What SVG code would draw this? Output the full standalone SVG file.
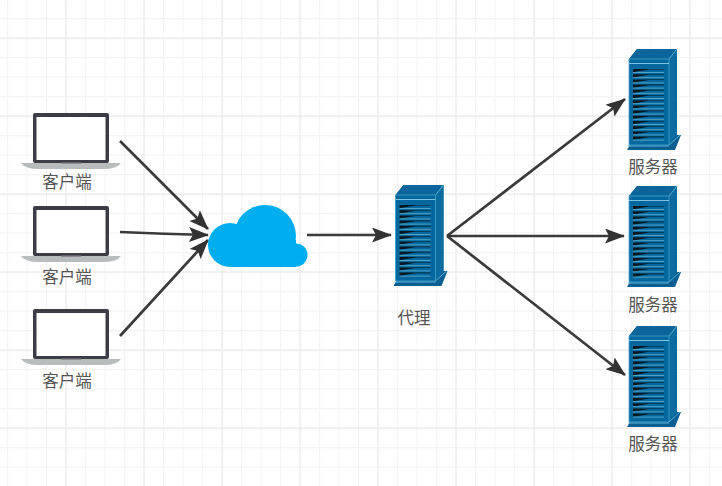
<svg xmlns="http://www.w3.org/2000/svg" xmlns:xlink="http://www.w3.org/1999/xlink" width="722" height="486" viewBox="0 0 722 486">
<style>
.lbl{font-family:"Liberation Sans","Noto Sans CJK SC",sans-serif;font-size:16.5px;fill:#555;text-anchor:middle}
.conn{fill:none;stroke:#3a3a3a;stroke-width:2.7}
.arrow{fill:#333}
</style>
<defs>
<pattern id="g" width="19.5" height="19.5" patternUnits="userSpaceOnUse" x="7" y="-1.5">
<path d="M0.5 0V19.5M0 0.5H19.5" stroke="#f4f4f4" stroke-width="1.3" fill="none"/>
</pattern>
<pattern id="G" width="78" height="78" patternUnits="userSpaceOnUse" x="65.500" y="37.5">
<path d="M0.5 0V78M0 0.5H78" stroke="#ebebeb" stroke-width="1.3" fill="none"/>
</pattern>
<marker id="ah" viewBox="0 0 20 15" refX="19" refY="7.5" markerWidth="20" markerHeight="15" markerUnits="userSpaceOnUse" orient="auto">
<path class="arrow" d="M0 0L20 7.5L0 15L4 7.5Z"/>
</marker>
<g id="laptop">
<path d="M-12 50H88Q84 56 70 56H6Q-8 56-12 50Z" fill="#b9bcbd"/>
<rect x="0" y="0" width="76" height="50" rx="2" fill="#3c3c46"/>
<rect x="3.5" y="4" width="69" height="43" fill="#fff"/>
<rect x="28" y="49.5" width="20" height="1.5" fill="#8a8a8f"/>
</g>
<path id="sr" d="M6 0H37V0.6H22L6 3.2Z"/>
<g id="server">
<path d="M2 11L10 1H50V87L54 87L48 102H0L3 97Z" fill="#0a5f92"/>
<path d="M42 11L50 1V87L42 97Z" fill="#0d6c9f"/>
<path d="M2 11L10 1H50L42 11Z" fill="#0b659a"/>
<path d="M2 11H42V97H2Z" fill="#04689f" stroke="#3fa3cc" stroke-width="0.8"/>
<path d="M2 15.5H42" stroke="#7cc3df" stroke-width="1.2"/>
<path d="M42 11L50 1M42 97L53 87" stroke="#58b0d4" stroke-width="1"/>
<path d="M1 98H42" stroke="#5cb1d4" stroke-width="1"/>
<g fill="#041822">
<use href="#sr" xlink:href="#sr" y="21"/><use href="#sr" xlink:href="#sr" y="26.2"/>
<use href="#sr" xlink:href="#sr" y="31.4"/><use href="#sr" xlink:href="#sr" y="36.6"/>
<use href="#sr" xlink:href="#sr" y="41.8"/><use href="#sr" xlink:href="#sr" y="47"/>
<use href="#sr" xlink:href="#sr" y="52.2"/><use href="#sr" xlink:href="#sr" y="57.4"/>
<use href="#sr" xlink:href="#sr" y="62.6"/><use href="#sr" xlink:href="#sr" y="67.8"/>
<use href="#sr" xlink:href="#sr" y="73"/><use href="#sr" xlink:href="#sr" y="78.2"/>
<use href="#sr" xlink:href="#sr" y="83.4"/><use href="#sr" xlink:href="#sr" y="88.6"/>
</g>
<path d="M6 24.5H37M6 29.7H37M6 34.9H37M6 40.100H37M6 45.3H37M6 50.5H37M6 55.7H37M6 60.900H37M6 66.100H37M6 71.3H37M6 76.500H37M6 81.700H37M6 86.900H37M6 92.100H37" stroke="#5aa9c8" stroke-width="0.9"/>
</g>
</defs>
<rect width="722" height="486" fill="#fff"/>
<rect width="722" height="486" fill="url(#g)"/>
<rect width="722" height="486" fill="url(#G)"/>
<g id="connectors">
<path class="conn" marker-end="url(#ah)" d="M120 141L208 229"/>
<path class="conn" marker-end="url(#ah)" d="M120 232Q165 234 208 235"/>
<path class="conn" marker-end="url(#ah)" d="M120 336L208 240"/>
<path class="conn" marker-end="url(#ah)" d="M307 235H391"/>
<path class="conn" marker-end="url(#ah)" d="M447 236L625 99"/>
<path class="conn" marker-end="url(#ah)" d="M447 236H624"/>
<path class="conn" marker-end="url(#ah)" d="M447 236L625 375"/>
</g>
<g id="client1"><use xlink:href="#laptop" href="#laptop" x="33" y="113"/><text class="lbl" x="67" y="188">客户端</text></g>
<g id="client2"><use xlink:href="#laptop" href="#laptop" x="33" y="206"/><text class="lbl" x="67" y="283">客户端</text></g>
<g id="client3"><use xlink:href="#laptop" href="#laptop" x="33" y="309"/><text class="lbl" x="67" y="387">客户端</text></g>
<g id="cloud" fill="#00aeef"><circle cx="265" cy="236" r="31"/><circle cx="230" cy="245" r="22"/><circle cx="296" cy="255" r="11.500"/><rect x="230" y="240" width="66" height="27"/></g>
<g id="proxy"><use xlink:href="#server" href="#server" x="393.500" y="184"/><text class="lbl" x="414" y="324">代理</text></g>
<g id="server1"><use xlink:href="#server" href="#server" x="627" y="48"/><text class="lbl" x="653" y="173">服务器</text></g>
<g id="server2"><use xlink:href="#server" href="#server" x="627" y="185"/><text class="lbl" x="653" y="311">服务器</text></g>
<g id="server3"><use xlink:href="#server" href="#server" x="627" y="325"/><text class="lbl" x="653" y="450">服务器</text></g>
</svg>
